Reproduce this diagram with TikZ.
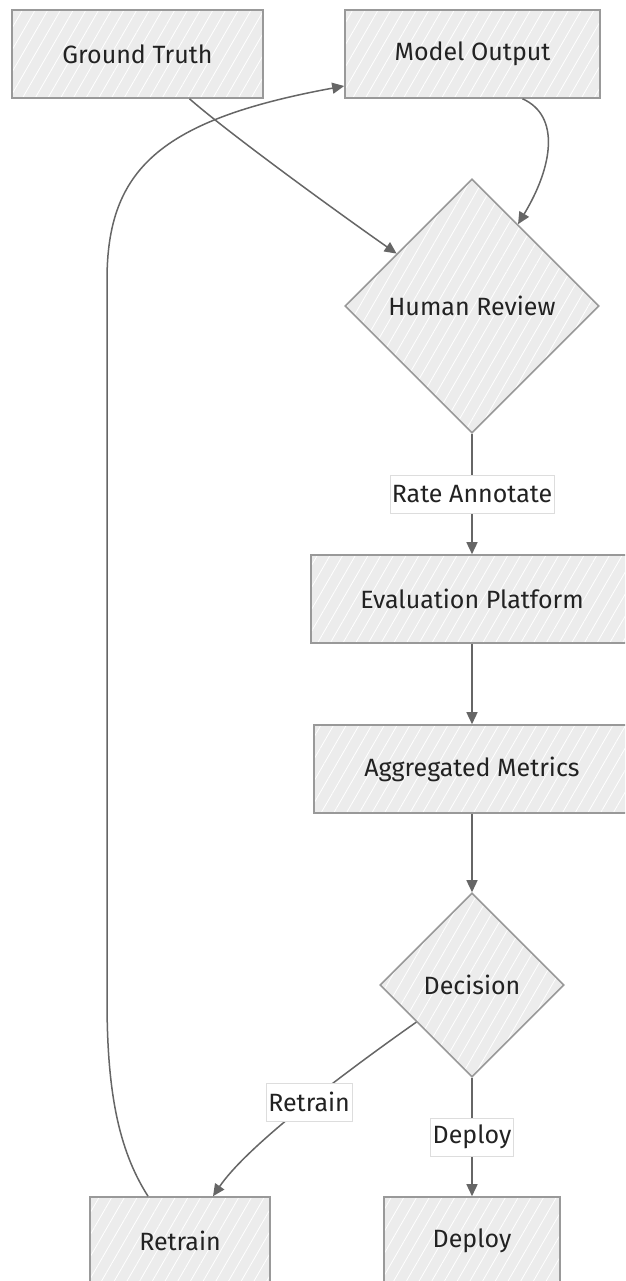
\documentclass[tikz,border=0pt]{standalone}
\usepackage{fontspec}
\setmainfont{Fira Sans}
\usetikzlibrary{arrows.meta,shapes.geometric,patterns.meta,calc}
\definecolor{nodefill}{HTML}{ECECEC}
\definecolor{nodeborder}{HTML}{999999}
\definecolor{edgecol}{HTML}{666666}
\definecolor{txt}{HTML}{222222}
\definecolor{lblborder}{HTML}{DDDDDD}
\begin{document}
\begin{tikzpicture}[x=1pt,y=-1pt,
  base/.style={font=\fontsize{25}{30}\selectfont, text=txt, preaction={fill=nodefill},
    pattern={Lines[angle=60,distance=11pt,line width=0.8pt]}, pattern color=white,
    draw=nodeborder, line width=1.6pt, inner sep=0pt},
  box/.style={base, rectangle, minimum height=88pt},
  dia/.style={base, diamond, aspect=1},
  edge/.style={draw=edgecol, line width=1.5pt, -{Triangle[length=12pt,width=11pt]}},
  lbl/.style={font=\fontsize{25}{30}\selectfont, text=txt, fill=white, draw=lblborder,
    line width=0.6pt, inner xsep=2pt, inner ysep=0pt, minimum height=38pt}
]
\useasboundingbox (0,0) rectangle (625,1281);
\fill[white] (0,0) rectangle (625,1281);
\clip (0,0) rectangle (625,1281);

\node[box, minimum width=251pt] (gt) at (137.5,54) {Ground Truth};
\node[box, minimum width=255pt] (mo) at (472.5,54) {Model Output};
\node[dia, minimum width=254pt, minimum height=254pt] (hr) at (472,306) {Human Review};
\node[box, minimum width=322pt] (ep) at (472,599) {Evaluation Platform};
\node[box, minimum width=316pt] (am) at (472,769) {Aggregated Metrics};
\node[dia, minimum width=184pt, minimum height=184pt] (dc) at (472,985) {Decision};
\node[box, minimum width=180pt] (rt) at (180,1241) {Retrain};
\node[box, minimum width=176pt] (dp) at (472,1241) {Deploy};

\draw[edge] ([xshift=52pt]gt.south) .. controls +(40,35) and +(-60,-42) .. ($(hr.west)!0.41!(hr.north)$);
\draw[edge] ([xshift=50pt]mo.south) .. controls +(38,17) and +(35,-58) .. ($(hr.north)!0.36!(hr.east)$);
\draw[edge] (hr.south) -- node[lbl] {Rate Annotate} (ep.north);
\draw[edge] (ep.south) -- (am.north);
\draw[edge] (am.south) -- (dc.north);
\draw[edge] ($(dc.west)!0.4!(dc.south)$) .. controls +(-88,62) and +(32,-47) .. ([xshift=33pt]rt.north) node[lbl, pos=0.43] {Retrain};
\draw[edge] (dc.south) -- node[lbl] {Deploy} (dp.north);
\draw[edge] ([xshift=-32pt]rt.north) .. controls +(-30,-47) and +(0,90) .. (107,1000) -- (107,280) .. controls +(0,-110) and +(-185,34) .. ([yshift=-32pt]mo.west);
\end{tikzpicture}
\end{document}
